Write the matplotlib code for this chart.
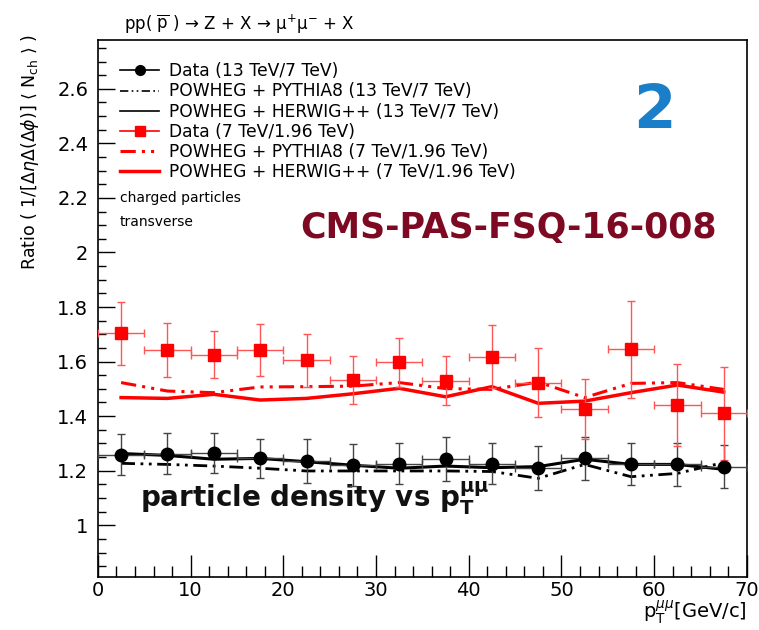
import matplotlib
matplotlib.use("Agg")
import matplotlib.pyplot as plt
from matplotlib.lines import Line2D
from matplotlib.ticker import MultipleLocator, FuncFormatter

plt.rcParams['font.family'] = ['DejaVu Sans']
plt.rcParams['mathtext.fontset'] = 'dejavusans'

# ---- data ----
pt = [2.5, 7.5, 12.5, 17.5, 22.5, 27.5, 32.5, 37.5, 42.5, 47.5, 52.5, 57.5, 62.5, 67.5]
pt_halfwidth = [2.5] * 14

data_13_7 = [1.258, 1.263, 1.264, 1.245, 1.236, 1.221, 1.226, 1.242, 1.226, 1.209, 1.245, 1.226, 1.223, 1.215]
data_13_7_err = [0.075, 0.075, 0.073, 0.072, 0.080, 0.076, 0.076, 0.080, 0.076, 0.080, 0.080, 0.077, 0.078, 0.078]
pythia_13_7 = [1.227, 1.223, 1.217, 1.209, 1.199, 1.199, 1.199, 1.199, 1.197, 1.172, 1.223, 1.178, 1.190, 1.230]
herwig_13_7 = [1.263, 1.256, 1.242, 1.245, 1.233, 1.220, 1.209, 1.217, 1.211, 1.215, 1.242, 1.223, 1.223, 1.205]

data_7_196 = [1.703, 1.642, 1.625, 1.642, 1.604, 1.531, 1.598, 1.529, 1.618, 1.523, 1.425, 1.645, 1.440, 1.410]
data_7_196_err = [0.115, 0.100, 0.086, 0.094, 0.097, 0.088, 0.090, 0.090, 0.116, 0.127, 0.110, 0.178, 0.150, 0.170]
pythia_7_196 = [1.523, 1.492, 1.486, 1.507, 1.508, 1.510, 1.523, 1.501, 1.498, 1.525, 1.468, 1.520, 1.523, 1.498]
herwig_7_196 = [1.468, 1.465, 1.480, 1.459, 1.465, 1.482, 1.502, 1.471, 1.508, 1.447, 1.455, 1.486, 1.514, 1.488]

labels = ["Data (13 TeV/7 TeV)",
          "POWHEG + PYTHIA8 (13 TeV/7 TeV)",
          "POWHEG + HERWIG++ (13 TeV/7 TeV)",
          "Data (7 TeV/1.96 TeV)",
          "POWHEG + PYTHIA8 (7 TeV/1.96 TeV)",
          "POWHEG + HERWIG++ (7 TeV/1.96 TeV)"]

RED = '#ff0000'
dashdotdot = (0, (5, 2, 1, 2, 1, 2))

fig = plt.figure(figsize=(7.59, 6.30), dpi=100)
ax = fig.add_axes([0.129, 0.084, 0.855, 0.853])

# model lines
ax.plot(pt, pythia_13_7, color='black', lw=2.0, ls=dashdotdot, zorder=3)
ax.plot(pt, herwig_13_7, color='black', lw=2.2, ls='-', zorder=3)
ax.plot(pt, pythia_7_196, color=RED, lw=2.2, ls=dashdotdot, zorder=3)
ax.plot(pt, herwig_7_196, color=RED, lw=2.5, ls='-', zorder=3)

# data
ax.errorbar(pt, data_13_7, xerr=pt_halfwidth, yerr=data_13_7_err, fmt='o', color='black',
            ms=9, ecolor='#444444', elinewidth=1.0, capsize=3, capthick=1.0, zorder=4)
ax.errorbar(pt, data_7_196, xerr=pt_halfwidth, yerr=data_7_196_err, fmt='s', color=RED,
            ms=9, ecolor='#ff5555', elinewidth=1.0, capsize=3, capthick=1.0, zorder=4)

ax.set_xlim(0, 70)
ax.set_ylim(0.81, 2.78)
ax.xaxis.set_major_locator(MultipleLocator(10))
ax.xaxis.set_minor_locator(MultipleLocator(2))
ax.yaxis.set_major_locator(MultipleLocator(0.2))
ax.yaxis.set_minor_locator(MultipleLocator(0.05))
ax.yaxis.set_major_formatter(FuncFormatter(lambda v, p: '{:g}'.format(round(v, 2))))
ax.tick_params(which='both', direction='in', top=False, right=False, labelsize=14, width=1.0)
ax.tick_params(axis='y', pad=7)
ax.tick_params(axis='x', pad=3)
ax.tick_params(which='major', axis='y', length=12)
ax.tick_params(which='minor', axis='y', length=6)
ax.tick_params(which='major', axis='x', length=16)
ax.tick_params(which='minor', axis='x', length=8)
for s in ax.spines.values():
    s.set_linewidth(1.2)

# legend
handles = [
    Line2D([], [], color='black', marker='o', ms=7, lw=1.2),
    Line2D([], [], color='black', ls=dashdotdot, lw=1.2),
    Line2D([], [], color='black', ls='-', lw=1.2),
    Line2D([], [], color=RED, marker='s', ms=7, lw=1.2),
    Line2D([], [], color=RED, ls=dashdotdot, lw=2.2),
    Line2D([], [], color=RED, ls='-', lw=2.5),
]
ax.legend(handles, labels, loc='upper left', bbox_to_anchor=(0.034, 0.958), frameon=False,
          fontsize=12.3, handlelength=2.3, handletextpad=0.55, labelspacing=0.13,
          borderaxespad=0, borderpad=0)

ax.text(0.034, 0.706, "charged particles", transform=ax.transAxes, fontsize=10, va='center')
ax.text(0.034, 0.661, "transverse", transform=ax.transAxes, fontsize=10, va='center')

ax.text(0.858, 0.866, "2", transform=ax.transAxes, fontsize=44, fontweight='bold',
        color='#1a7fc8', ha='center', va='center')
ax.text(0.632, 0.65, "CMS-PAS-FSQ-16-008", transform=ax.transAxes, fontsize=25,
        fontweight='bold', color='#7d0a22', ha='center', va='center')
ax.text(0.065, 0.147, r"particle density vs p$_{\mathbf{T}}^{\mathbf{\mu\mu}}$", transform=ax.transAxes,
        fontsize=20, fontweight='bold', color='#111111', ha='left', va='center')

fig.text(0.163, 0.962, r"pp( $\overline{\mathrm{p}}$ ) → Z + X → μ$^{+}$μ$^{-}$ + X",
         fontsize=12, ha='left', va='center')
fig.text(0.040, 0.758, r"Ratio ( 1/[$\Delta\eta\Delta(\Delta\phi)$] $\langle$ N$_{\mathrm{ch}}$ $\rangle$ )",
         fontsize=12.5, rotation=90, ha='center', va='center')
fig.text(0.984, 0.028, r"p$_{\mathrm{T}}^{\mu\mu}$[GeV/c]", fontsize=14, ha='right', va='center')

fig.savefig("out.png", dpi=100)
